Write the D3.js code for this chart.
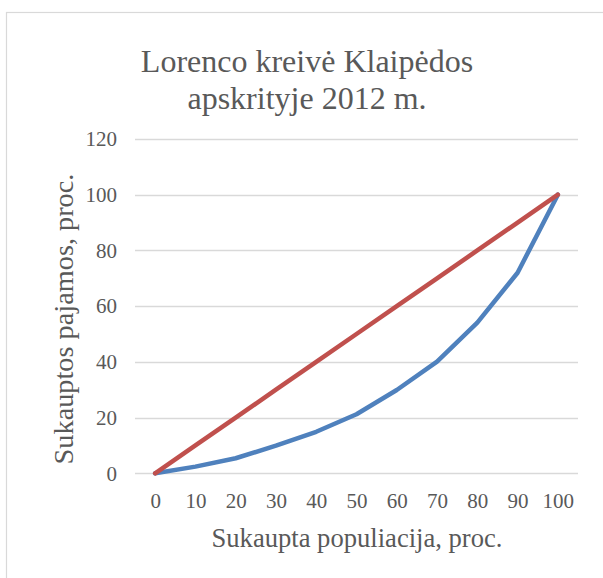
<!DOCTYPE html>
<html><head><meta charset="utf-8">
<script src="https://cdn.jsdelivr.net/npm/d3@7"></script>
<style>body{margin:0;background:#fff}svg{display:block}</style>
</head><body><svg id="c" width="603" height="578"></svg>
<script>
const categories = ["0","10","20","30","40","50","60","70","80","90","100"];
const lorenz = [0, 2.4, 5.4, 9.9, 14.9, 21.2, 29.9, 40.1, 54.1, 72.0, 100];
const equality = [0, 10, 20, 30, 40, 50, 60, 70, 80, 90, 100];
const yTicks = [0, 20, 40, 60, 80, 100, 120];
const titleLines = ["Lorenco kreivė Klaipėdos", "apskrityje 2012 m."];
const xTitle = "Sukaupta populiacija, proc.";
const yTitle = "Sukauptos pajamos, proc.";

const svg = d3.select("#c");
const font = "Liberation Serif, Times New Roman, serif";
const txt = "#595959";

svg.append("rect").attr("x",6.5).attr("y",12.5).attr("width",620).attr("height",600)
  .attr("fill","#fff").attr("stroke","#d9d9d9").attr("stroke-width",1.2);

const x = d3.scalePoint().domain(categories).range([135,578]).padding(0.5);
const y = d3.scaleLinear().domain([0,120]).range([473.3,139]);

// gridlines
svg.append("g").selectAll("line").data(yTicks).join("line")
  .attr("x1",135).attr("x2",578).attr("y1",d=>Math.round(y(d))+0.5).attr("y2",d=>Math.round(y(d))+0.5)
  .attr("stroke","#d9d9d9").attr("stroke-width",1.3);

// y axis labels
const ya = svg.append("g").attr("transform","translate(117,0)")
  .call(d3.axisLeft(y).tickValues(yTicks).tickSize(0).tickPadding(0));
ya.select(".domain").remove();
ya.attr("font-family",font).attr("font-size",21);
ya.selectAll("text").attr("fill",txt);

// x axis labels
const xa = svg.append("g").attr("transform","translate(0,493)")
  .call(d3.axisBottom(x).tickSize(0).tickPadding(0));
xa.select(".domain").remove();
xa.attr("font-family",font).attr("font-size",21);
xa.selectAll("text").attr("fill",txt);

const line = d3.line().x((d,i)=>x(categories[i])).y(d=>y(d));
svg.append("path").datum(lorenz).attr("d",line).attr("fill","none")
  .attr("stroke","#4f81bd").attr("stroke-width",4.5).attr("stroke-linejoin","round").attr("stroke-linecap","round");
svg.append("path").datum(equality).attr("d",line).attr("fill","none")
  .attr("stroke","#c0504d").attr("stroke-width",4.5).attr("stroke-linejoin","round").attr("stroke-linecap","round");

// title
svg.append("g").selectAll("text").data(titleLines).join("text")
  .attr("x",307).attr("y",(d,i)=>72+i*37).attr("text-anchor","middle")
  .style("font-family",font).style("font-size","32px").attr("fill",txt).text(d=>d);

svg.append("text").attr("x",357).attr("y",547).attr("text-anchor","middle")
  .style("font-family",font).style("font-size","26.6px").attr("fill",txt).text(xTitle);

svg.append("text").attr("transform","translate(73,319) rotate(-90)").attr("text-anchor","middle")
  .style("font-family",font).style("font-size","28.3px").attr("fill",txt).text(yTitle);
</script></body></html>
